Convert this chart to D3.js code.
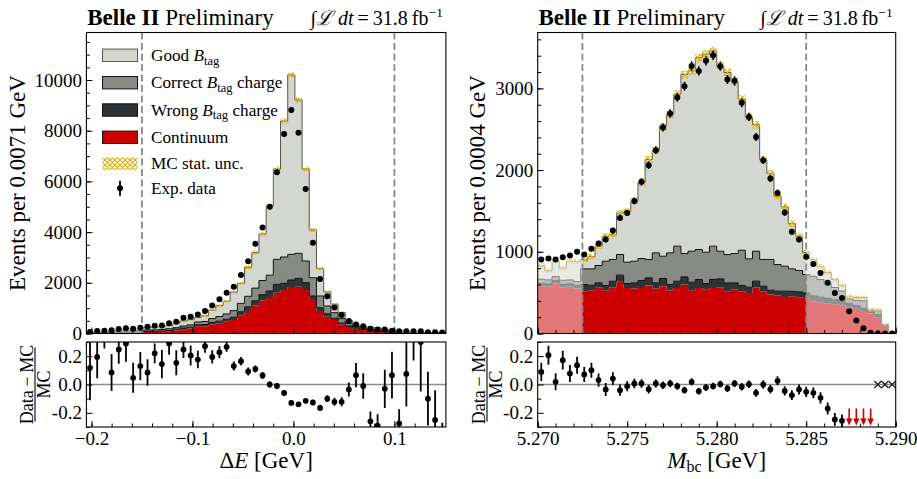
<!DOCTYPE html>
<html>
<head>
<meta charset="utf-8">
<script src="https://cdn.jsdelivr.net/npm/d3@7"></script>
<style>
  body { margin: 0; background: #fff; }
  svg text { font-family: "Liberation Serif", "Times New Roman", Times, serif; fill: #000; }
</style>
</head>
<body>
<svg id="chart" width="917" height="479"></svg>
<script>
// ---------------- ΔE distribution (50 bins of 0.00712 GeV) ----------------
const dEContinuum = [12,21,20,30,36,40,45,51,60,65, 75,90,130,170,200,284,290,363,402,466, 532,718,888,1100,1300,1400,1610,1716,1834,1847, 1716,1322,888,663,533,362,256,190,138,99, 80,60,40,45,30,22,22,20,20,22];
const dEWrong     = [5,8,8,12,14,16,18,20,22,22, 24,28,40,45,50,60,65,75,85,95, 110,140,160,190,230,277,330,264,276,330, 289,158,130,117,67,48,44,30,25,25, 20,15,10,12,8,6,6,6,6,7];
const dECorrect   = [12,21,20,30,36,40,45,51,55,55, 60,70,60,80,90,110,120,150,180,210, 260,330,420,500,560,623,986,1038,1013,986, 855,720,462,305,222,175,102,60,60,50, 50,40,25,33,22,16,17,16,16,18];
const dEGood      = [20,34,32,48,57,63,73,82,104,111, 116,123,169,201,206,179,226,337,432,502, 733,793,1146,1399,1839,2730,3563,5365,7074,6048, 3629,1883,1080,555,338,245,113,53,63,76, 70,45,25,30,24,18,20,18,20,23];
const dEData      = [55,100,110,130,178,205,190,230,262,309, 315,401,460,618,658,745,890,1105,1349,1611, 1848,2308,2855,3540,4180,5002,6359,7870,8817,7921, 5700,3582,2148,1466,1026,730,495,355,283,185, 160,155,106,87,90,90,85,54,47,42];
const dEMCUnc     = [12,14,14,16,17,18,19,20,22,23, 24,26,28,30,32,34,36,40,44,48, 54,60,66,72,78,84,92,100,110,104, 90,78,64,54,46,38,30,25,23,22, 20,18,16,16,14,13,13,13,13,13];
const dERatio     = [0.118,0.195,0.38,0.085,0.247,0.29,0.047,0.13,0.085,0.22, 0.144,0.29,0.153,0.247,0.205,0.176,0.27,0.195,0.228,0.266, 0.13,0.165,0.092,0.11,0.064,0.0,-0.01,-0.06,-0.13,-0.14, -0.115,-0.127,-0.165,-0.1,-0.122,-0.122,-0.035,0.066,-0.01,-0.26, -0.29,-0.03,0.066,-0.275,0.075,0.45,0.30,-0.1,-0.25,-0.6];
const dERatioErr  = [0.23,0.15,0.125,0.13,0.10,0.13,0.106,0.10,0.094,0.07, 0.10,0.08,0.088,0.06,0.07,0.062,0.045,0.047,0.043,0.035, 0.032,0.03,0.028,0.025,0.025,0.022,0.02,0.018,0.016,0.016, 0.018,0.02,0.022,0.024,0.028,0.032,0.05,0.085,0.09,0.07, 0.08,0.135,0.165,0.10,0.23,0.28,0.35,0.19,0.21,0.33];

// ---------------- Mbc distribution (50 bins of 0.0004 GeV) ----------------
const mbcContinuum = [579,571,612,567,571,551,518,530,567,530, 567,632,558,551,558,588,551,579,526,558, 600,530,558,534,558,567,518,538,518,497, 567,518,477,464,448,456,444,436,390,380, 370,358,345,320,300,275,245,200,85,0];
const mbcWrong     = [35,35,35,35,35,35,82,61,53,57, 73,82,54,69,90,93,69,94,74,82, 93,98,103,78,103,102,100,82,70,70, 74,61,53,54,70,60,66,61,70,65, 60,55,50,45,40,35,20,30,10,0];
const mbcCorrect   = [50,50,50,50,50,50,191,200,212,298, 266,253,261,265,270,225,367,273,387,429, 286,379,367,383,408,338,348,359,431,347, 366,327,376,326,306,275,261,225,240,215, 180,150,125,60,65,90,20,45,12,0];
const mbcGood      = [168,114,193,148,230,244,112,150,236,307, 303,507,621,735,927,1224,1253,1584,1693,1861, 2191,2208,2347,2425,2391,2268,2229,2101,1851,1736, 1548,1219,1054,836,726,554,421,267,205,159, 136,97,66,30,35,40,10,15,5,0];
const mbcData      = [906,918,906,934,955,1000,967,1036,1101,1150, 1260,1415,1476,1623,1856,2060,2244,2521,2693,2889, 3027,3275,3214,3337,3406,3272,3109,3092,2823,2651, 2406,2121,1897,1721,1480,1244,1150,938,852,742, 620,497,436,273,159,65,8,0,0,0];
const mbcMCUnc     = [30,30,31,30,31,31,31,32,33,34, 35,37,38,39,41,43,44,45,46,48, 49,49,50,50,50,49,49,48,47,46, 45,43,42,40,39,37,35,33,32,31, 30,29,28,26,25,24,20,20,14,0];
const mbcRatio     = [0.089,0.207,0.019,0.172,0.078,0.136,0.071,0.101,0.031,-0.035, 0.042,-0.04,-0.012,0.007,0.007,-0.033,0.007,-0.005,0.007,-0.012, -0.04,0.019,-0.047,-0.021,-0.012,0.002,-0.028,0.007,-0.016,0.002, -0.059,0.0,-0.033,0.026,-0.045,-0.075,-0.035,-0.052,-0.059,-0.094, -0.169,-0.247,-0.256,-0.40,-0.64,-0.85,-0.97,null,null,null];
const mbcRatioErr  = [0.065,0.067,0.06,0.066,0.06,0.06,0.053,0.053,0.047,0.046, 0.045,0.04,0.035,0.033,0.03,0.03,0.028,0.027,0.026,0.025, 0.025,0.025,0.024,0.024,0.024,0.024,0.025,0.025,0.026,0.027, 0.028,0.03,0.03,0.032,0.033,0.035,0.035,0.037,0.038,0.04, 0.042,0.045,0.045,0.05,0.06,0.1,0.2,0,0,0];

// ---------------- axis ticks ----------------
const dEXTicks = [-0.2, -0.1, 0.0, 0.1];
const dEXTickLabels = ["\u22120.2", "\u22120.1", "0.0", "0.1"];
const dEXMinor = [-0.2,-0.18,-0.16,-0.14,-0.12,-0.1,-0.08,-0.06,-0.04,-0.02,0,0.02,0.04,0.06,0.08,0.1,0.12,0.14];
const dEYTicks = [0, 2000, 4000, 6000, 8000, 10000];
const dEYMinor = d3.range(0, 11501, 500);
const mbcXTicks = [5.270, 5.275, 5.280, 5.285, 5.290];
const mbcXTickLabels = ["5.270", "5.275", "5.280", "5.285", "5.290"];
const mbcXMinor = d3.range(5.270, 5.2901, 0.001);
const mbcYTicks = [0, 1000, 2000, 3000];
const mbcYMinor = d3.range(0, 3601, 200);
const ratioTicks = [-0.2, 0.0, 0.2];
const ratioTickLabels = ["-0.2", "0.0", "0.2"];
const ratioMinor = [-0.3, -0.1, 0.1, 0.3];

const legendLabels = [
  { key: "good",    pre: "Good ",    post: "" },
  { key: "correct", pre: "Correct ", post: " charge" },
  { key: "wrong",   pre: "Wrong ",   post: " charge" },
  { key: "cont",    text: "Continuum" },
  { key: "unc",     text: "MC stat. unc." },
  { key: "data",    text: "Exp. data" }
];

// ---------------- styling ----------------
const KEYS = ["cont", "wrong", "correct", "good"];
const COLORS = { good: "#d3d7cf", correct: "#888a85", wrong: "#2e3436", cont: "#cc0000" };
const EDGES = { good: "#555753", correct: "#111", wrong: "#111", cont: null };
const UNC_COLOR = "#e0b000";
const MT = 32.5, MB = 333.5, RT = 342, RB = 427;
const TICK_FS = 19;

const svg = d3.select("#chart");
const defs = svg.append("defs");
const hatch = defs.append("pattern").attr("id", "hatch")
  .attr("patternUnits", "userSpaceOnUse").attr("width", 5).attr("height", 5);
hatch.append("path")
  .attr("d", "M0,0L5,5M5,0L0,5M-1,1L1,-1M4,6L6,4M-1,4L1,6M4,-1L6,1")
  .attr("stroke", UNC_COLOR).attr("stroke-width", 1.2).attr("fill", "none");

function styleAxis(g, fs) {
  g.select(".domain").remove();
  g.selectAll(".tick line").attr("stroke", "#000").attr("stroke-width", 1);
  g.selectAll(".tick text").attr("font-size", fs)
    .attr("font-family", '"Liberation Serif","Times New Roman",serif').attr("fill", "#000");
  g.attr("font-family", null).attr("font-size", null);
}

function drawPanel(c) {
  const x = d3.scaleLinear().domain(c.xDomain).range([c.x0, c.x1]);
  const y = d3.scaleLinear().domain([0, c.yMax]).range([MB, MT]);
  const yr = d3.scaleLinear().domain([-0.3, 0.3]).range([RB, RT]);
  const n = c.data.length;
  const edges = d3.range(n + 1).map(k => c.xDomain[0] + k * c.binW);
  const centers = d3.range(n).map(k => c.xDomain[0] + (k + 0.5) * c.binW);

  const clipMain = c.id + "-main", clipRat = c.id + "-rat";
  defs.append("clipPath").attr("id", clipMain).append("rect")
    .attr("x", c.x0).attr("y", MT).attr("width", c.x1 - c.x0).attr("height", MB - MT);
  defs.append("clipPath").attr("id", clipRat).append("rect")
    .attr("x", c.x0).attr("y", RT).attr("width", c.x1 - c.x0).attr("height", RB - RT);

  // stacked MC components
  const table = d3.range(n).map(i => ({ cont: c.cont[i], wrong: c.wrong[i], correct: c.correct[i], good: c.good[i] }));
  const stack = d3.stack().keys(KEYS)(table);
  const gm = svg.append("g").attr("clip-path", `url(#${clipMain})`);
  const stepPts = s => d3.range(n + 1).map(k => {
    const b = s[Math.min(k, n - 1)];
    return { x: edges[k], y0: b[0], y1: b[1] };
  });
  const area = d3.area().curve(d3.curveStepAfter).x(d => x(d.x)).y0(d => y(d.y0)).y1(d => y(d.y1));
  const topLine = d3.line().curve(d3.curveStepAfter).x(d => x(d.x)).y(d => y(d.y1));
  stack.forEach(s => gm.append("path").attr("d", area(stepPts(s))).attr("fill", COLORS[s.key]));
  stack.forEach(s => {
    if (!EDGES[s.key]) return;
    gm.append("path").attr("d", topLine(stepPts(s))).attr("fill", "none")
      .attr("stroke", EDGES[s.key]).attr("stroke-width", 1);
  });

  // MC statistical uncertainty band
  const total = d3.range(n).map(i => stack[3][i][1]);
  const uncPts = d3.range(n + 1).map(k => {
    const i = Math.min(k, n - 1);
    return { x: edges[k], y0: Math.max(0, total[i] - c.unc[i]), y1: total[i] + c.unc[i] };
  });
  gm.append("path").attr("d", area(uncPts)).attr("fill", "url(#hatch)");

  // sidebands outside the signal window are faded
  gm.append("rect").attr("x", c.x0).attr("y", MT).attr("width", x(c.signal[0]) - c.x0)
    .attr("height", MB - MT).attr("fill", "#fff").attr("opacity", 0.47);
  gm.append("rect").attr("x", x(c.signal[1])).attr("y", MT).attr("width", c.x1 - x(c.signal[1]))
    .attr("height", MB - MT).attr("fill", "#fff").attr("opacity", 0.47);
  c.signal.forEach(v => gm.append("line")
    .attr("x1", x(v)).attr("x2", x(v)).attr("y1", MT).attr("y2", MB)
    .attr("stroke", "#888").attr("stroke-width", 1.8).attr("stroke-dasharray", "7,3.5"));

  // experimental data
  c.data.forEach((d, i) => {
    const e = Math.sqrt(d);
    if (e > 0) gm.append("line").attr("x1", x(centers[i])).attr("x2", x(centers[i]))
      .attr("y1", y(d - e)).attr("y2", y(d + e)).attr("stroke", "#000").attr("stroke-width", 1.6);
    gm.append("circle").attr("cx", x(centers[i])).attr("cy", y(d)).attr("r", 3).attr("fill", "#000");
  });

  // frame + axes of main panel
  svg.append("rect").attr("x", c.x0).attr("y", MT).attr("width", c.x1 - c.x0).attr("height", MB - MT)
    .attr("fill", "none").attr("stroke", "#000").attr("stroke-width", 1.1);
  styleAxis(svg.append("g").attr("transform", `translate(${c.x0},0)`)
    .call(d3.axisLeft(y).tickValues(c.yTicks).tickSizeInner(-6).tickSizeOuter(0).tickPadding(4.5).tickFormat(d3.format("d"))), TICK_FS);
  styleAxis(svg.append("g").attr("transform", `translate(${c.x0},0)`)
    .call(d3.axisLeft(y).tickValues(c.yMinor).tickSizeInner(-3.5).tickSizeOuter(0).tickFormat("")), TICK_FS);
  styleAxis(svg.append("g").attr("transform", `translate(0,${MB})`)
    .call(d3.axisBottom(x).tickValues(c.xTicks).tickSizeInner(-6).tickSizeOuter(0).tickFormat("")), TICK_FS);
  styleAxis(svg.append("g").attr("transform", `translate(0,${MB})`)
    .call(d3.axisBottom(x).tickValues(c.xMinor).tickSizeInner(-3.5).tickSizeOuter(0).tickFormat("")), TICK_FS);

  // y title of main panel
  svg.append("text").attr("transform", `translate(${c.yTitleX},${(MT + MB) / 2}) rotate(-90)`)
    .attr("text-anchor", "middle").attr("font-size", 23).text(c.yTitle);

  // titles above the panel
  const t = svg.append("text").attr("x", c.x0 + 0.8).attr("y", 25).attr("font-size", 23);
  t.append("tspan").attr("font-weight", "bold").text("Belle II");
  t.append("tspan").text(" Preliminary");
  const l = svg.append("text").attr("x", c.x1 - 3).attr("y", 25).attr("font-size", 20).attr("text-anchor", "end");
  l.append("tspan").text("\u222B");
  l.append("tspan").attr("font-style", "italic").text("\u2112");
  l.append("tspan").attr("font-style", "italic").text(" dt");
  l.append("tspan").text("\u2009=\u200931.8\u2009fb");
  l.append("tspan").attr("font-size", 13.5).attr("dy", -8).text("\u22121");

  // ---------- ratio panel ----------
  const gr = svg.append("g").attr("clip-path", `url(#${clipRat})`);
  gr.append("line").attr("x1", c.x0).attr("x2", c.x1).attr("y1", yr(0)).attr("y2", yr(0))
    .attr("stroke", "#8a8a8a").attr("stroke-width", 1.6);
  c.ratio.forEach((r, i) => {
    const cx = x(centers[i]);
    if (r === null) {
      gr.append("path").attr("d", `M${cx - 3.5},${yr(0) - 3.5}L${cx + 3.5},${yr(0) + 3.5}M${cx - 3.5},${yr(0) + 3.5}L${cx + 3.5},${yr(0) - 3.5}`)
        .attr("stroke", "#222").attr("stroke-width", 1.3).attr("fill", "none");
      return;
    }
    const e = c.ratioErr[i];
    if (r + e < -0.3) {
      // point lies entirely below the visible range
      const ya = yr(-0.17), yb = RB - 1.5;
      gr.append("line").attr("x1", cx).attr("x2", cx).attr("y1", ya).attr("y2", yb - 5)
        .attr("stroke", "#cc0000").attr("stroke-width", 1.6);
      gr.append("path").attr("d", `M${cx - 3.2},${yb - 7}L${cx + 3.2},${yb - 7}L${cx},${yb}Z`).attr("fill", "#cc0000");
      return;
    }
    gr.append("line").attr("x1", cx).attr("x2", cx).attr("y1", yr(r - e)).attr("y2", yr(r + e))
      .attr("stroke", "#000").attr("stroke-width", 1.8);
    gr.append("circle").attr("cx", cx).attr("cy", yr(r)).attr("r", 2.9).attr("fill", "#000");
  });
  svg.append("rect").attr("x", c.x0).attr("y", RT).attr("width", c.x1 - c.x0).attr("height", RB - RT)
    .attr("fill", "none").attr("stroke", "#000").attr("stroke-width", 1.1);
  styleAxis(svg.append("g").attr("transform", `translate(${c.x0},0)`)
    .call(d3.axisLeft(yr).tickValues(ratioTicks).tickSizeInner(-6).tickSizeOuter(0).tickPadding(4.5)
      .tickFormat((d, i) => ratioTickLabels[i])), TICK_FS);
  styleAxis(svg.append("g").attr("transform", `translate(${c.x0},0)`)
    .call(d3.axisLeft(yr).tickValues(ratioMinor).tickSizeInner(-3.5).tickSizeOuter(0).tickFormat("")), TICK_FS);
  styleAxis(svg.append("g").attr("transform", `translate(0,${RB})`)
    .call(d3.axisBottom(x).tickValues(c.xTicks).tickSizeInner(-6).tickSizeOuter(0).tickPadding(4.5)
      .tickFormat((d, i) => c.xTickLabels[i])), TICK_FS);
  styleAxis(svg.append("g").attr("transform", `translate(0,${RB})`)
    .call(d3.axisBottom(x).tickValues(c.xMinor).tickSizeInner(-3.5).tickSizeOuter(0).tickFormat("")), TICK_FS);

  // ratio y title as a fraction
  const fr = svg.append("g").attr("transform", `translate(${c.fracX},${(RT + RB) / 2}) rotate(-90)`);
  fr.append("text").attr("x", 0).attr("y", -2.5).attr("text-anchor", "middle").attr("font-size", 18).text("Data\u2009\u2212\u2009MC");
  fr.append("line").attr("x1", -37).attr("x2", 37).attr("y1", 0).attr("y2", 0).attr("stroke", "#000").attr("stroke-width", 1.1);
  fr.append("text").attr("x", 0).attr("y", 15).attr("text-anchor", "middle").attr("font-size", 18).text("MC");

  // x title
  c.xTitle(svg.append("text").attr("x", (c.x0 + c.x1) / 2).attr("y", 468)
    .attr("text-anchor", "middle").attr("font-size", 23));
}

drawPanel({
  id: "de", x0: 86.4, x1: 445.9, xDomain: [-0.205, 0.151], binW: 0.00712, yMax: 11874,
  cont: dEContinuum, wrong: dEWrong, correct: dECorrect, good: dEGood,
  data: dEData, unc: dEMCUnc, ratio: dERatio, ratioErr: dERatioErr,
  signal: [-0.15, 0.1],
  xTicks: dEXTicks, xTickLabels: dEXTickLabels, xMinor: dEXMinor,
  yTicks: dEYTicks, yMinor: dEYMinor,
  yTitle: "Events per 0.0071 GeV", yTitleX: 25, fracX: 35,
  xTitle: t => { t.append("tspan").text("\u0394"); t.append("tspan").attr("font-style", "italic").text("E"); t.append("tspan").text(" [GeV]"); }
});

drawPanel({
  id: "mbc", x0: 537.7, x1: 895.7, xDomain: [5.270, 5.290], binW: 0.0004, yMax: 3684,
  cont: mbcContinuum, wrong: mbcWrong, correct: mbcCorrect, good: mbcGood,
  data: mbcData, unc: mbcMCUnc, ratio: mbcRatio, ratioErr: mbcRatioErr,
  signal: [5.2725, 5.285],
  xTicks: mbcXTicks, xTickLabels: mbcXTickLabels, xMinor: mbcXMinor,
  yTicks: mbcYTicks, yMinor: mbcYMinor,
  yTitle: "Events per 0.0004 GeV", yTitleX: 485, fracX: 487,
  xTitle: t => {
    t.append("tspan").attr("font-style", "italic").text("M");
    t.append("tspan").attr("font-size", 16).attr("dy", 4).text("bc");
    t.append("tspan").attr("dy", -4).text(" [GeV]");
  }
});

// ---------------- legend (ΔE panel) ----------------
const lg = svg.append("g");
const rowY = [55.3, 82.7, 110, 137.3, 163.6, 188.3];
legendLabels.forEach((L, i) => {
  const cy = rowY[i];
  if (L.key === "data") {
    lg.append("line").attr("x1", 120).attr("x2", 120).attr("y1", cy - 7.5).attr("y2", cy + 7.5)
      .attr("stroke", "#000").attr("stroke-width", 1.8);
    lg.append("circle").attr("cx", 120).attr("cy", cy).attr("r", 3).attr("fill", "#000");
  } else if (L.key === "unc") {
    lg.append("rect").attr("x", 102.5).attr("y", cy - 6.2).attr("width", 35).attr("height", 12.4).attr("fill", "url(#hatch)");
  } else {
    lg.append("rect").attr("x", 102.5).attr("y", cy - 6.2).attr("width", 35).attr("height", 12.4)
      .attr("fill", COLORS[L.key]).attr("stroke", L.key === "good" ? "#555753" : "#111").attr("stroke-width", 1);
  }
  const t = lg.append("text").attr("x", 151).attr("y", cy + 5.7).attr("font-size", 17.2);
  if (L.text) { t.text(L.text); return; }
  t.append("tspan").text(L.pre);
  t.append("tspan").attr("font-style", "italic").text("B");
  t.append("tspan").attr("font-size", 12.5).attr("dy", 3.5).text("tag");
  t.append("tspan").attr("dy", -3.5).text(L.post);
});
</script>
</body>
</html>
